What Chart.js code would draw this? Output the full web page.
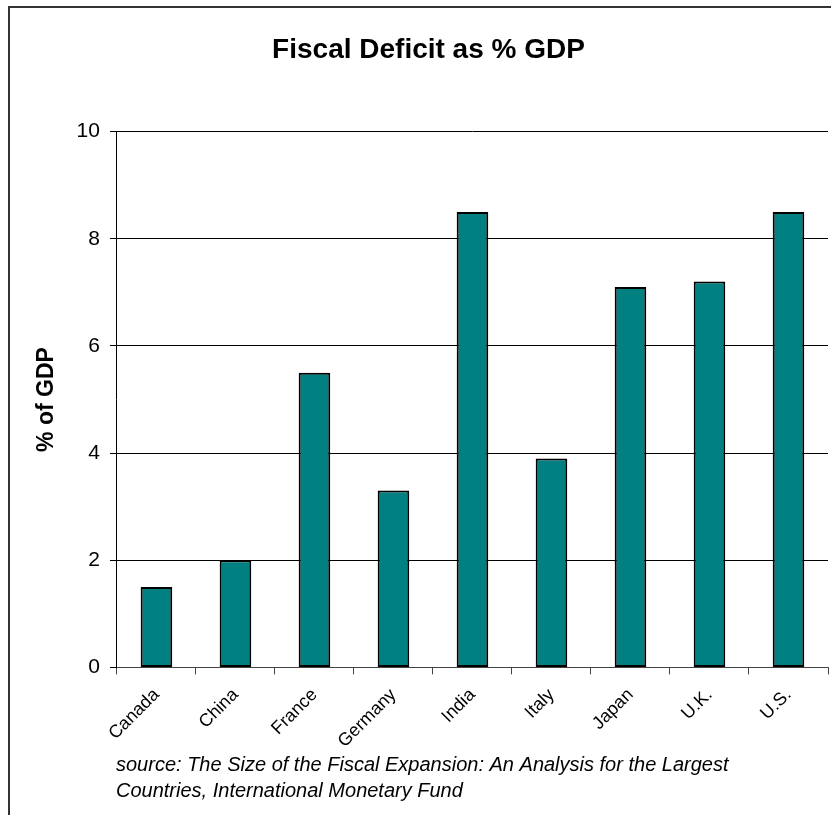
<!DOCTYPE html>
<html>
<head>
<meta charset="utf-8">
<script src="https://cdn.jsdelivr.net/npm/chart.js@4"></script>
<style>
  html, body { margin: 0; padding: 0; background: #fff; }
  canvas { display: block; }
</style>
</head>
<body>
<canvas id="chart" width="831" height="815"></canvas>
<script>
const countries = ['Canada', 'China', 'France', 'Germany', 'India', 'Italy', 'Japan', 'U.K.', 'U.S.'];
const deficit = [1.5, 2.0, 5.5, 3.3, 8.5, 3.9, 7.1, 7.2, 8.5];
const yTicks = [0, 2, 4, 6, 8, 10];
const sourceLines = [
	'source: The Size of the Fiscal Expansion: An Analysis for the Largest',
	'Countries, International Monetary Fund'
];

// outer frame + source note
const extras = {
	id: 'extras',
	afterDraw(chart) {
		const ctx = chart.ctx;
		ctx.save();
		ctx.strokeStyle = '#333';
		ctx.lineWidth = 2;
		ctx.beginPath();
		ctx.moveTo(9, 830);
		ctx.lineTo(9, 7);
		ctx.lineTo(840, 7);
		ctx.stroke();
		ctx.fillStyle = '#000';
		ctx.font = 'italic 20px "Liberation Sans", Arial, sans-serif';
		ctx.textBaseline = 'middle';
		ctx.textAlign = 'left';
		sourceLines.forEach((t, i) => ctx.fillText(t, 116, 765 + i * 26));
		ctx.restore();
	}
};

new Chart(document.getElementById('chart'), {
	type: 'bar',
	data: {
		labels: countries,
		datasets: [{
			data: deficit,
			label: 'Fiscal deficit',
			backgroundColor: '#008080',
			borderColor: '#000',
			borderWidth: 2,
			borderSkipped: false,
			barPercentage: 0.4,
			categoryPercentage: 1.0
		}]
	},
	options: {
		responsive: false,
		animation: false,
		layout: { padding: { left: 29, right: 3, top: 30, bottom: 53 } },
		plugins: {
			legend: { display: false },
			tooltip: { enabled: false },
			title: {
				display: true,
				text: 'Fiscal Deficit as % GDP',
				color: '#000',
				font: { family: '"Liberation Sans", Arial, sans-serif', size: 28, weight: 'bold' },
				padding: { top: 3, bottom: 65 }
			}
		},
		scales: {
			x: {
				grid: { display: true, drawOnChartArea: false, color: '#444', tickLength: 7, offset: true },
				border: { color: '#444', width: 1 },
				ticks: {
					color: '#000',
					maxRotation: 45,
					minRotation: 45,
					padding: 10,
					font: { family: '"Liberation Sans", Arial, sans-serif', size: 18 }
				}
			},
			y: {
				min: 0,
				max: 10,
				afterBuildTicks: axis => { axis.ticks = yTicks.map(v => ({ value: v })); },
				grid: { color: '#000', tickLength: 7, lineWidth: 1 },
				border: { color: '#000', width: 1 },
				ticks: {
					color: '#000',
					padding: 10,
					font: { family: '"Liberation Sans", Arial, sans-serif', size: 21 }
				},
				title: {
					display: true,
					text: '% of GDP',
					color: '#000',
					font: { family: '"Liberation Sans", Arial, sans-serif', size: 23, weight: 'bold' },
					padding: { top: 4, bottom: 6 }
				}
			}
		}
	},
	plugins: [extras]
});
</script>
</body>
</html>
